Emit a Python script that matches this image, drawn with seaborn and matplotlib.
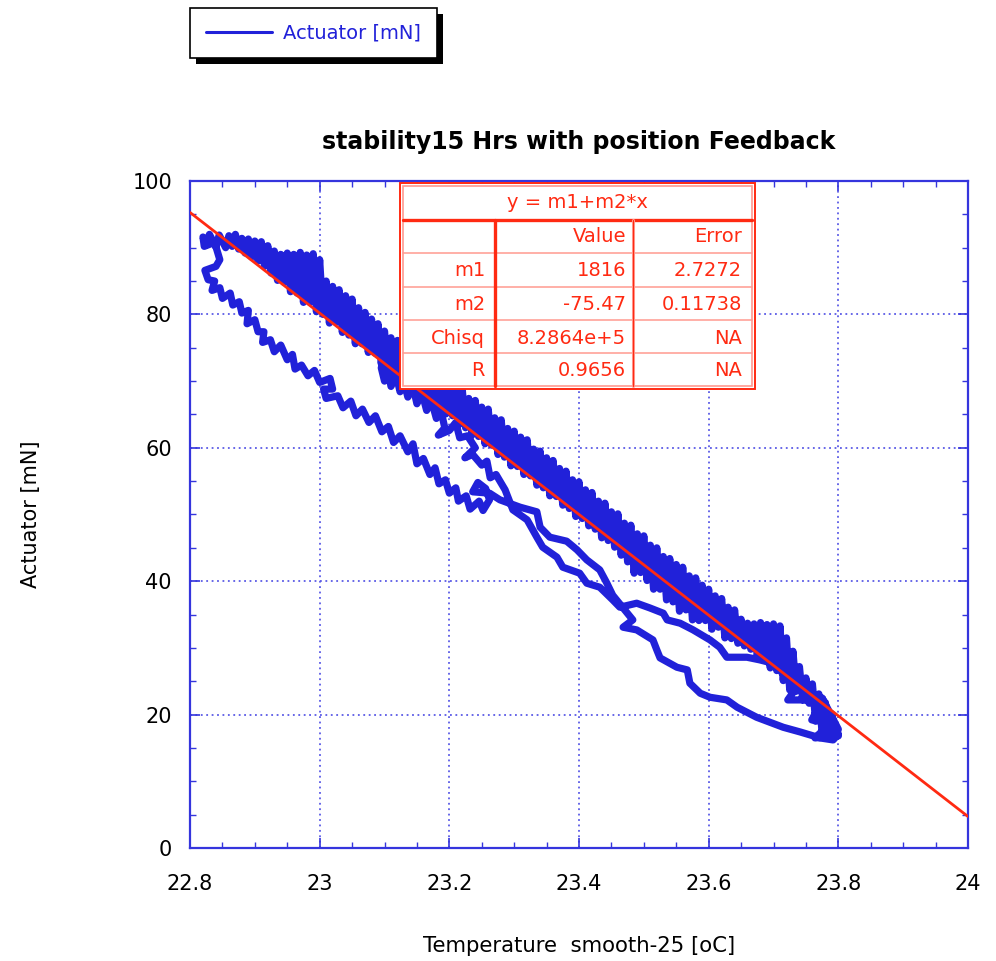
import numpy as np
import pandas as pd
import matplotlib
matplotlib.use("Agg")
import matplotlib.pyplot as plt
import seaborn as sns
from matplotlib.patches import Rectangle
from matplotlib.lines import Line2D
from matplotlib.ticker import MultipleLocator, FuncFormatter

# ---- measured trace: temperature (smooth-25) [oC] vs actuator force [mN] ----
# middle strand, return strands and descent into the warm end
temp_a = [
    23.095, 23.100, 23.105, 23.110, 23.118, 23.124, 23.130, 23.136, 23.144, 23.150,
    23.158, 23.165, 23.172, 23.180, 23.186, 23.193, 23.183, 23.200, 23.210, 23.216,
    23.228, 23.240, 23.224, 23.236, 23.250, 23.258, 23.263, 23.272, 23.286, 23.298,
    23.320, 23.335, 23.344, 23.366, 23.375, 23.401, 23.412, 23.432, 23.452, 23.463,
    23.489, 23.509, 23.530, 23.536, 23.556, 23.576, 23.602, 23.617, 23.628, 23.659,
    23.679, 23.699, 23.717, 23.733, 23.722, 23.748, 23.771, 23.759, 23.790, 23.764,
    23.800, 23.784, 23.775,
]
force_a = [
    72.0, 70.0, 71.8, 69.2, 70.9, 68.4, 70.0, 67.6, 69.2, 66.6,
    68.2, 65.6, 67.2, 64.4, 66.0, 63.0, 61.9, 62.6, 63.8, 61.5,
    61.8, 60.0, 58.5, 59.0, 57.4, 58.0, 55.5, 56.0, 53.7, 50.7,
    49.2, 46.6, 45.1, 43.6, 42.1, 41.2, 39.7, 39.1, 37.2, 36.1,
    36.7, 36.0, 35.2, 34.2, 33.7, 32.7, 31.2, 30.1, 28.6, 28.6,
    28.2, 27.7, 25.9, 23.7, 22.2, 22.2, 21.4, 19.2, 18.9, 16.5,
    16.8, 20.4, 22.5,
]

# noisy cooling branch riding on the fit line (warm end -> cold end)
temp_b = [
    23.800, 23.795, 23.790, 23.785, 23.780, 23.775, 23.770, 23.765, 23.760, 23.755,
    23.750, 23.745, 23.740, 23.735, 23.730, 23.725, 23.720, 23.715, 23.710, 23.705,
    23.700, 23.695, 23.690, 23.685, 23.680, 23.675, 23.670, 23.665, 23.660, 23.655,
    23.650, 23.645, 23.640, 23.635, 23.630, 23.625, 23.620, 23.615, 23.610, 23.605,
    23.600, 23.595, 23.590, 23.585, 23.580, 23.575, 23.570, 23.565, 23.560, 23.555,
    23.550, 23.545, 23.540, 23.535, 23.530, 23.525, 23.520, 23.515, 23.510, 23.505,
    23.500, 23.495, 23.490, 23.485, 23.480, 23.475, 23.470, 23.465, 23.460, 23.455,
    23.450, 23.445, 23.440, 23.435, 23.430, 23.425, 23.420, 23.415, 23.410, 23.405,
    23.400, 23.395, 23.390, 23.385, 23.380, 23.375, 23.370, 23.365, 23.360, 23.355,
    23.350, 23.345, 23.340, 23.335, 23.330, 23.325, 23.320, 23.315, 23.310, 23.305,
    23.300, 23.295, 23.290, 23.285, 23.280, 23.275, 23.270, 23.265, 23.260, 23.255,
    23.250, 23.245, 23.240, 23.235, 23.230, 23.225, 23.220, 23.215, 23.210, 23.205,
    23.200, 23.195, 23.190, 23.185, 23.180, 23.175, 23.170, 23.165, 23.160, 23.155,
    23.150, 23.145, 23.140, 23.135, 23.130, 23.125, 23.120, 23.115, 23.110, 23.105,
    23.100, 23.095, 23.090, 23.085, 23.080, 23.075, 23.070, 23.065, 23.060, 23.055,
    23.050, 23.045, 23.040, 23.035, 23.030, 23.025, 23.020, 23.015, 23.010, 23.005,
    23.000, 22.995, 22.990, 22.985, 22.980, 22.975, 22.970, 22.965, 22.960, 22.955,
    22.950, 22.945, 22.940, 22.935, 22.930, 22.925, 22.920, 22.915, 22.910, 22.905,
    22.900, 22.895, 22.890, 22.885, 22.880, 22.875, 22.870, 22.865,
    22.860, 22.855, 22.845, 22.840, 22.830, 22.825, 22.820, 22.822,
]
force_b = [
    17.8, 16.6, 20.1, 16.7, 21.8, 17.2, 23.1, 19.0, 24.6, 21.7,
    25.5, 22.2, 27.2, 23.5, 29.5, 23.7, 31.5, 25.1, 33.3, 26.6,
    33.6, 27.0, 33.5, 28.2, 33.8, 28.7, 33.6, 29.8, 33.7, 30.3,
    34.3, 30.7, 35.7, 31.4, 36.1, 31.5, 37.4, 33.1, 37.8, 32.8,
    38.8, 34.1, 39.4, 34.1, 40.5, 34.2, 40.8, 35.7, 42.1, 35.5,
    42.5, 36.9, 43.4, 37.2, 43.7, 38.8, 45.0, 38.8, 45.4, 40.1,
    46.8, 41.3, 47.1, 41.2, 48.4, 42.9, 48.7, 43.9, 50.1, 45.1,
    50.4, 46.1, 51.7, 46.5, 52.0, 47.8, 53.3, 48.3, 53.7, 49.4,
    54.9, 49.7, 55.2, 50.9, 56.5, 51.4, 56.9, 52.7, 58.1, 52.8,
    58.5, 54.0, 59.5, 54.4, 59.8, 55.8, 61.2, 56.0, 61.6, 57.2,
    62.5, 57.3, 62.9, 58.6, 64.2, 59.0, 64.5, 60.4, 65.8, 60.6,
    66.1, 61.7, 67.1, 61.9, 67.4, 63.0, 68.7, 63.5, 69.0, 64.8,
    70.3, 65.1, 70.6, 66.2, 71.6, 66.5, 72.0, 67.7, 73.2, 68.1,
    73.7, 69.3, 74.8, 69.5, 75.1, 70.7, 76.1, 71.1, 76.5, 72.3,
    77.5, 72.6, 78.6, 74.2, 79.3, 74.3, 80.3, 75.6, 81.0, 75.6,
    82.3, 76.9, 82.8, 77.3, 83.7, 78.8, 84.2, 78.7, 85.0, 80.0,
    88.2, 80.4, 89.1, 81.8, 88.9, 81.8, 89.3, 83.2, 89.0, 83.4,
    89.2, 84.8, 89.0, 85.1, 89.5, 86.2, 90.3, 87.2, 90.9, 88.0,
    91.0, 88.6, 91.3, 89.2, 91.4, 89.8, 92.0, 90.2,
    91.8, 90.0, 91.9, 90.1, 92.0, 90.4, 91.6, 90.2,
]

# heating branch below the fit line (cold end -> middle)
temp_c = [
    22.838, 22.846, 22.840, 22.823, 22.828, 22.838, 22.834, 22.846, 22.850, 22.862,
    22.866, 22.876, 22.880, 22.890, 22.888, 22.900, 22.905, 22.914, 22.912, 22.924,
    22.930, 22.940, 22.950, 22.958, 22.962, 22.972, 22.982, 22.992, 23.000, 23.016,
    23.020, 23.006, 23.010, 23.028, 23.036, 23.048, 23.056, 23.066, 23.076, 23.086,
    23.096, 23.106, 23.114, 23.124, 23.136, 23.144, 23.150, 23.160, 23.170, 23.178,
    23.184, 23.194, 23.200, 23.210, 23.214, 23.226, 23.232, 23.246, 23.252, 23.262,
    23.256, 23.244, 23.236, 23.262, 23.278,
]
force_c = [
    90.8, 88.2, 87.2, 86.6, 85.2, 85.0, 83.6, 84.0, 82.4, 83.2,
    81.4, 81.9, 80.2, 80.6, 78.6, 79.2, 77.4, 77.4, 75.8, 76.2,
    74.4, 75.4, 73.2, 74.0, 71.8, 72.4, 70.8, 71.6, 69.8, 70.4,
    68.8, 68.8, 67.4, 67.8, 66.0, 67.0, 64.8, 65.8, 63.8, 64.8,
    62.4, 63.2, 60.8, 61.8, 59.4, 60.6, 57.6, 58.4, 56.0, 57.0,
    54.6, 55.2, 53.2, 54.0, 52.0, 52.8, 50.8, 52.0, 50.6, 52.2,
    53.9, 54.8, 53.4, 53.2, 52.2,
]

# final strands back to the warm end
temp_d = [
    23.309, 23.335, 23.340, 23.355, 23.381, 23.397, 23.412, 23.432, 23.443, 23.452,
    23.483, 23.468, 23.489, 23.514, 23.520, 23.525, 23.551, 23.567, 23.571, 23.587,
    23.602, 23.628, 23.644, 23.674, 23.715, 23.741, 23.772, 23.792, 23.800,
]
force_d = [
    51.1, 50.4, 48.1, 46.6, 46.0, 44.7, 43.2, 41.7, 39.7, 37.9,
    34.2, 33.1, 32.7, 31.2, 29.7, 28.5, 27.1, 26.7, 24.7, 23.2,
    22.6, 22.2, 21.1, 19.6, 18.1, 17.4, 16.5, 16.2, 17.1,
]

# ---- linear fit  y = m1 + m2*x ----
fit_m1 = 1816
fit_m2 = -75.47
fit_param_names = ["m1", "m2", "Chisq", "R"]
fit_values = ["1816", "-75.47", "8.2864e+5", "0.9656"]
fit_errors = ["2.7272", "0.11738", "NA", "NA"]

x_ticks = [22.8, 23.0, 23.2, 23.4, 23.6, 23.8, 24.0]
y_ticks = [0, 20, 40, 60, 80, 100]

BLUE = "#2121d9"
AXIS_BLUE = "#3535dd"
GRID_BLUE = "#5a5ae6"
RED = "#ff2a12"
PINK = "#ff9a90"

sns.set_theme(style="white")
plt.rcParams["font.family"] = ["DejaVu Sans"]

W, H = 996, 961
fig = plt.figure(figsize=(W / 100, H / 100), dpi=100)
fig.patch.set_facecolor("white")
ax = fig.add_axes([190 / W, 1 - 848 / H, 778 / W, 667 / H])


def fx(px):
    return px / W


def fy(py):
    return 1 - py / H


df = pd.DataFrame({
    "Temperature": temp_a + temp_b + temp_c + temp_d,
    "Actuator": force_a + force_b + force_c + force_d,
})
sns.lineplot(data=df, x="Temperature", y="Actuator", sort=False, estimator=None,
             color=BLUE, lw=5.2, ax=ax, zorder=2, legend=False,
             solid_joinstyle="round", solid_capstyle="round")

fit_x = np.array([22.8, 24.0])
fit_y = fit_m1 + fit_m2 * fit_x
sns.lineplot(x=fit_x, y=fit_y, color=RED, lw=2.0, ax=ax, zorder=3, legend=False)

ax.set_xlim(x_ticks[0], x_ticks[-1])
ax.set_ylim(y_ticks[0], y_ticks[-1])
ax.set_xticks(x_ticks)
ax.set_yticks(y_ticks)
ax.xaxis.set_minor_locator(MultipleLocator(0.05))
ax.yaxis.set_minor_locator(MultipleLocator(5))
ax.xaxis.set_major_formatter(FuncFormatter(lambda v, p: f"{v:g}"))
ax.yaxis.set_major_formatter(FuncFormatter(lambda v, p: f"{v:g}"))

ax.grid(True, which="major", color=GRID_BLUE, linestyle=(0, (1, 2)), lw=1.3)
ax.set_axisbelow(True)
for s in ax.spines.values():
    s.set_color(AXIS_BLUE)
    s.set_linewidth(1.6)
ax.tick_params(which="both", direction="in", bottom=True, left=True, top=True,
               right=True, color=AXIS_BLUE, labelcolor="black", labelsize=15)
ax.tick_params(axis="x", which="major", pad=19)
ax.tick_params(axis="y", which="major", pad=13)
ax.tick_params(which="major", length=7, width=1.2)
ax.tick_params(which="minor", length=4.5, width=1.0)

ax.set_xlabel("Temperature  smooth-25 [oC]", fontsize=15.3, labelpad=30, color="black")
ax.set_ylabel("Actuator [mN]", fontsize=15, labelpad=66, color="black")
ax.set_title("stability15 Hrs with position Feedback", fontsize=17,
             fontweight="bold", pad=23, color="black")

# legend box with a hard black drop shadow
leg = ax.legend(handles=[Line2D([], [], color=BLUE, lw=2.2)], labels=["Actuator [mN]"],
                loc="upper left", bbox_to_anchor=(fx(190), fy(8)),
                bbox_transform=fig.transFigure, borderaxespad=0, frameon=True,
                fancybox=False, edgecolor="black", framealpha=1,
                handlelength=3.4, handletextpad=0.6, borderpad=0.8, fontsize=14)
leg.get_frame().set_linewidth(1.2)
for t in leg.get_texts():
    t.set_color(BLUE)

fig.canvas.draw()
bb = leg.get_window_extent().transformed(fig.transFigure.inverted())
fig.add_artist(Rectangle((bb.x0 + 6 / W, bb.y0 - 6 / H), bb.width, bb.height,
                         transform=fig.transFigure, facecolor="black",
                         edgecolor="none", zorder=-1))

# fit-results table
tx0, tx1, ty0, ty1 = 400, 755, 183, 389
zt = 10
fig.add_artist(Rectangle((fx(tx0), fy(ty1)), fx(tx1) - fx(tx0), fy(ty0) - fy(ty1),
                         transform=fig.transFigure, facecolor="white",
                         edgecolor=RED, lw=1.4, zorder=zt))
fig.add_artist(Rectangle((fx(tx0 + 3), fy(ty1 - 3)), fx(tx1 - 3) - fx(tx0 + 3),
                         fy(ty0 + 3) - fy(ty1 - 3), transform=fig.transFigure,
                         facecolor="none", edgecolor=PINK, lw=1.2, zorder=zt + 1))


def hline(py, color, lw):
    fig.add_artist(Line2D([fx(tx0 + 3), fx(tx1 - 3)], [fy(py), fy(py)],
                          transform=fig.transFigure, color=color, lw=lw, zorder=zt + 2))


def vline(px, color, lw):
    fig.add_artist(Line2D([fx(px), fx(px)], [fy(220), fy(ty1 - 3)],
                          transform=fig.transFigure, color=color, lw=lw, zorder=zt + 2))


row_edges = [220, 253, 287, 320, 353]
hline(row_edges[0], RED, 2.4)
for py in row_edges[1:]:
    hline(py, PINK, 1.1)
vline(495, RED, 2.4)
vline(633, PINK, 2.2)
vline(633, RED, 0.8)

tkw = dict(fontsize=14, color=RED, zorder=zt + 3, va="center")
fig.text(fx(577), fy(203), "y = m1+m2*x", ha="center", **tkw)
fig.text(fx(626), fy(237), "Value", ha="right", **tkw)
fig.text(fx(742), fy(237), "Error", ha="right", **tkw)
row_centres = [271, 304, 338, 371]
for name, val, err, cy in zip(fit_param_names, fit_values, fit_errors, row_centres):
    fig.text(fx(485), fy(cy), name, ha="right", **tkw)
    fig.text(fx(626), fy(cy), val, ha="right", **tkw)
    fig.text(fx(742), fy(cy), err, ha="right", **tkw)

fig.savefig("out.png", dpi=100, facecolor="white")
